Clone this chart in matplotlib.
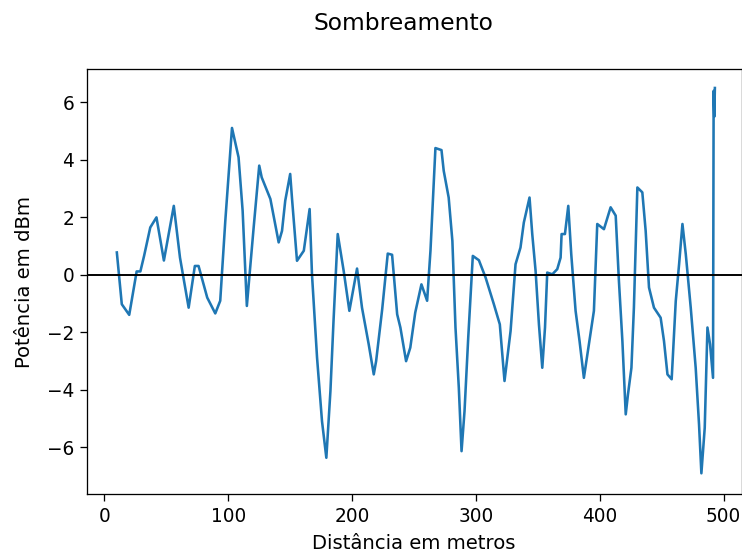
import matplotlib
matplotlib.use("Agg")
import matplotlib.pyplot as plt

# distancia (m) e sombreamento (dBm)
distancia = [10, 14, 20, 26, 29, 32, 37, 42, 48, 56, 61, 68,
             73, 76, 83, 89.5, 93.5, 97.6, 103, 108.3, 111.6, 115, 120.5, 125, 127,
             134, 140.7, 143.4, 146, 150, 151.5, 155.5, 161, 165.7, 167.6, 171.7,
             175.7, 179.2, 182.5, 185, 188.4, 193.2, 197.8, 204,
             208, 213.4, 217.5, 219.4, 224.3, 228.8, 232.3, 236.4, 239, 243.6, 247,
             251, 256, 260.6, 263.3, 267.3, 272.2,
             274, 278, 281, 283.5, 286.2, 288.4, 290.8, 293.8, 297.5, 302.4, 307.8,
             314.5, 319.3, 323.1, 328, 332, 336, 338.7, 343.3,
             345.5, 348.2, 350.9, 353.6, 355.8, 357.6, 361.7, 365.7, 368.4, 369.2,
             371.9, 374.6, 377, 380.5, 383.7, 387.2, 391.3, 395.3, 398, 403.4, 408.8,
             412.9, 415.5, 418.3, 421, 422.8, 425.6, 427.6, 430.4, 434.4, 437.1,
             439.8, 443.8, 449.2, 451.9, 454.7, 458.1, 461.4, 464.1, 466.8, 469.5,
             473.5, 477.5, 480.2, 482.1, 484.8, 487, 489.1, 491.5, 492, 492.5, 493]
sombreamento = [0.78, -1.02, -1.39, 0.12, 0.12, 0.66, 1.65, 2.0, 0.5, 2.4, 0.6, -1.14,
                0.31, 0.31, -0.79, -1.34, -0.9, 1.88, 5.11, 4.09, 2.23, -1.08, 1.65, 3.8, 3.39,
                2.64, 1.13, 1.53, 2.58, 3.51, 2.64, 0.49, 0.84, 2.29, 0.02, -2.88,
                -5.09, -6.36, -4.04, -1.6, 1.42, 0.14, -1.25, 0.22,
                -1.14, -2.41, -3.46, -3.0, -1.2, 0.74, 0.7, -1.37, -1.83, -3.0, -2.53,
                -1.31, -0.33, -0.9, 0.84, 4.41, 4.34,
                3.62, 2.69, 1.18, -1.83, -3.93, -6.13, -4.74, -2.18, 0.66, 0.51, -0.09,
                -1.02, -1.72, -3.69, -1.95, 0.37, 0.95, 1.82, 2.69,
                1.42, 0.14, -1.72, -3.23, -1.83, 0.08, 0.02, 0.2, 0.6, 1.42,
                1.42, 2.4, 0.72, -1.25, -2.3, -3.58, -2.41, -1.25, 1.77, 1.59, 2.35,
                2.06, -0.21, -2.3, -4.85, -4.16, -3.23, -1.14, 3.04, 2.87, 1.53,
                -0.44, -1.14, -1.49, -2.3, -3.46, -3.63, -0.91, 0.37, 1.77, 0.72,
                -1.14, -3.23, -5.2, -6.9, -5.32, -1.83, -2.41, -3.58, 6.4, 5.5, 6.5]

fig = plt.figure(figsize=(742 / 116, 553 / 116), dpi=116)
ax = fig.add_axes([87 / 742, 1 - 494 / 553, (741.5 - 87) / 742, (494 - 69) / 553])

ax.plot(distancia, sombreamento, color="C0", linewidth=1.6)
ax.axhline(0, color="black", linewidth=1.2)
ax.set_xlim(-14.1, 514.5)
ax.set_ylim(-7.62, 7.16)
ax.tick_params(labelsize=11.5, length=4.5)

ax.set_xlabel("Distância em metros", fontsize=12.2, labelpad=5)
ax.set_ylabel("Potência em dBm", fontsize=12.2, labelpad=8)
fig.suptitle("Sombreamento", fontsize=14.5, x=403 / 742, y=0.978)

fig.savefig("out.png", dpi=116)
